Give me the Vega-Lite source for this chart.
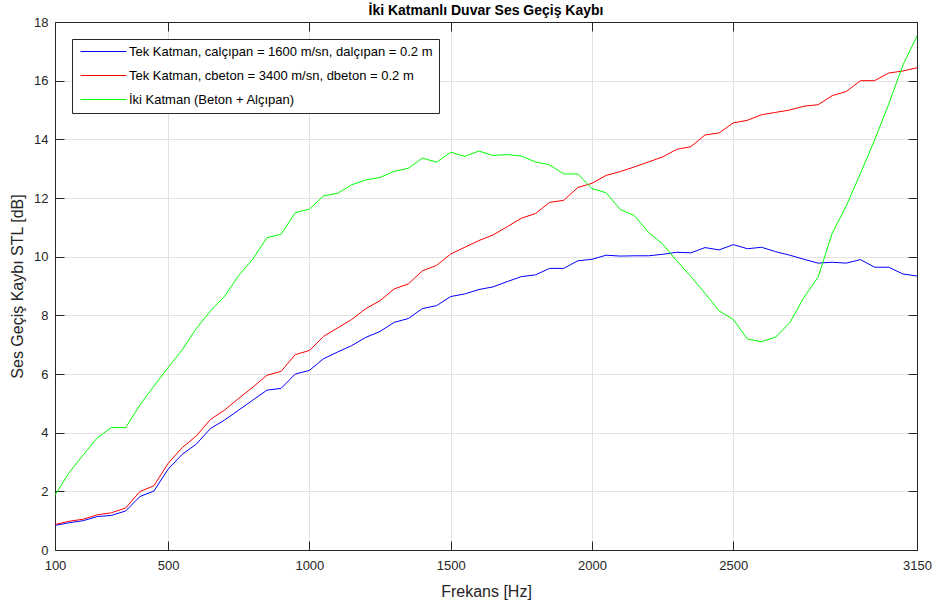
{
  "$schema": "https://vega.github.io/schema/vega-lite/v6.json",
  "width": 862,
  "height": 528,
  "autosize": {"type": "none"},
  "padding": {"left": 55, "top": 22, "right": 24, "bottom": 57},
  "background": "white",
  "config": {
    "font": "Liberation Sans",
    "view": {"stroke": null},
    "axis": {
      "labelFont": "Liberation Sans",
      "titleFont": "Liberation Sans",
      "labelColor": "#262626",
      "titleColor": "#262626",
      "labelFontSize": 13,
      "titleFontSize": 16,
      "titleFontWeight": "normal",
      "domainColor": "#262626",
      "domainWidth": 1,
      "tickColor": "#262626",
      "tickSize": -9,
      "gridColor": "#e2e2e2",
      "gridWidth": 1,
      "labelFlush": false,
      "format": "d"
    }
  },
  "title": {
    "text": "İki Katmanlı Duvar Ses Geçiş Kaybı",
    "font": "Liberation Sans",
    "fontSize": 14,
    "fontWeight": "bold",
    "color": "#000000",
    "anchor": "middle",
    "offset": -2
  },
  "data": {
    "values": [
      {"f": 100, "alcipan": 0.84, "beton": 0.87, "iki": 1.87},
      {"f": 150, "alcipan": 0.93, "beton": 0.98, "iki": 2.64},
      {"f": 200, "alcipan": 1.0, "beton": 1.05, "iki": 3.24},
      {"f": 250, "alcipan": 1.14, "beton": 1.2, "iki": 3.83},
      {"f": 300, "alcipan": 1.18, "beton": 1.27, "iki": 4.18},
      {"f": 350, "alcipan": 1.33, "beton": 1.43, "iki": 4.17},
      {"f": 400, "alcipan": 1.82, "beton": 1.99, "iki": 4.94},
      {"f": 450, "alcipan": 2.01, "beton": 2.19, "iki": 5.59},
      {"f": 500, "alcipan": 2.75, "beton": 2.95, "iki": 6.22},
      {"f": 550, "alcipan": 3.26, "beton": 3.49, "iki": 6.82},
      {"f": 600, "alcipan": 3.61, "beton": 3.89, "iki": 7.55},
      {"f": 650, "alcipan": 4.14, "beton": 4.45, "iki": 8.15},
      {"f": 700, "alcipan": 4.43, "beton": 4.77, "iki": 8.65},
      {"f": 750, "alcipan": 4.77, "beton": 5.17, "iki": 9.36},
      {"f": 800, "alcipan": 5.11, "beton": 5.55, "iki": 9.92},
      {"f": 850, "alcipan": 5.45, "beton": 5.96, "iki": 10.65},
      {"f": 900, "alcipan": 5.51, "beton": 6.09, "iki": 10.76},
      {"f": 950, "alcipan": 6.0, "beton": 6.66, "iki": 11.5},
      {"f": 1000, "alcipan": 6.12, "beton": 6.8, "iki": 11.62},
      {"f": 1050, "alcipan": 6.52, "beton": 7.28, "iki": 12.07},
      {"f": 1100, "alcipan": 6.75, "beton": 7.57, "iki": 12.16},
      {"f": 1150, "alcipan": 6.97, "beton": 7.86, "iki": 12.45},
      {"f": 1200, "alcipan": 7.25, "beton": 8.23, "iki": 12.62},
      {"f": 1250, "alcipan": 7.45, "beton": 8.5, "iki": 12.7},
      {"f": 1300, "alcipan": 7.76, "beton": 8.9, "iki": 12.91},
      {"f": 1350, "alcipan": 7.89, "beton": 9.07, "iki": 13.01},
      {"f": 1400, "alcipan": 8.23, "beton": 9.52, "iki": 13.36},
      {"f": 1450, "alcipan": 8.33, "beton": 9.7, "iki": 13.22},
      {"f": 1500, "alcipan": 8.64, "beton": 10.09, "iki": 13.56},
      {"f": 1550, "alcipan": 8.73, "beton": 10.32, "iki": 13.42},
      {"f": 1600, "alcipan": 8.88, "beton": 10.55, "iki": 13.6},
      {"f": 1650, "alcipan": 8.97, "beton": 10.74, "iki": 13.45},
      {"f": 1700, "alcipan": 9.15, "beton": 11.02, "iki": 13.48},
      {"f": 1750, "alcipan": 9.32, "beton": 11.31, "iki": 13.43},
      {"f": 1800, "alcipan": 9.38, "beton": 11.47, "iki": 13.23},
      {"f": 1850, "alcipan": 9.6, "beton": 11.85, "iki": 13.13},
      {"f": 1900, "alcipan": 9.6, "beton": 11.92, "iki": 12.82},
      {"f": 1950, "alcipan": 9.86, "beton": 12.36, "iki": 12.82},
      {"f": 2000, "alcipan": 9.91, "beton": 12.5, "iki": 12.32},
      {"f": 2050, "alcipan": 10.05, "beton": 12.77, "iki": 12.18},
      {"f": 2100, "alcipan": 10.02, "beton": 12.9, "iki": 11.61},
      {"f": 2150, "alcipan": 10.03, "beton": 13.06, "iki": 11.4},
      {"f": 2200, "alcipan": 10.03, "beton": 13.23, "iki": 10.83},
      {"f": 2250, "alcipan": 10.08, "beton": 13.4, "iki": 10.43},
      {"f": 2300, "alcipan": 10.15, "beton": 13.66, "iki": 9.86},
      {"f": 2350, "alcipan": 10.13, "beton": 13.75, "iki": 9.32},
      {"f": 2400, "alcipan": 10.31, "beton": 14.15, "iki": 8.75},
      {"f": 2450, "alcipan": 10.23, "beton": 14.22, "iki": 8.15},
      {"f": 2500, "alcipan": 10.41, "beton": 14.56, "iki": 7.86},
      {"f": 2550, "alcipan": 10.27, "beton": 14.65, "iki": 7.19},
      {"f": 2600, "alcipan": 10.32, "beton": 14.84, "iki": 7.1},
      {"f": 2650, "alcipan": 10.17, "beton": 14.92, "iki": 7.26},
      {"f": 2700, "alcipan": 10.05, "beton": 15.0, "iki": 7.75},
      {"f": 2750, "alcipan": 9.91, "beton": 15.13, "iki": 8.61},
      {"f": 2800, "alcipan": 9.78, "beton": 15.18, "iki": 9.3},
      {"f": 2850, "alcipan": 9.81, "beton": 15.49, "iki": 10.8},
      {"f": 2900, "alcipan": 9.78, "beton": 15.63, "iki": 11.74},
      {"f": 2950, "alcipan": 9.9, "beton": 16.0, "iki": 12.84},
      {"f": 3000, "alcipan": 9.64, "beton": 16.0, "iki": 13.98},
      {"f": 3050, "alcipan": 9.64, "beton": 16.26, "iki": 15.2},
      {"f": 3100, "alcipan": 9.41, "beton": 16.33, "iki": 16.53},
      {"f": 3150, "alcipan": 9.34, "beton": 16.44, "iki": 17.52}
    ]
  },
  "transform": [
    {"fold": ["alcipan", "beton", "iki"], "as": ["seri", "stl"]}
  ],
  "layer": [
    {
      "mark": {"type": "line", "strokeWidth": 1, "clip": true},
      "encoding": {
        "x": {
          "field": "f",
          "type": "quantitative",
          "scale": {"domain": [100, 3150], "nice": false, "zero": false},
          "axis": {
            "orient": "bottom",
            "title": "Frekans [Hz]",
            "values": [100, 500, 1000, 1500, 2000, 2500, 3150],
            "labelPadding": 18,
            "titlePadding": 11,
            "grid": true
          }
        },
        "y": {
          "field": "stl",
          "type": "quantitative",
          "scale": {"domain": [0, 18], "nice": false},
          "axis": {
            "orient": "left",
            "title": "Ses Geçiş Kaybı STL [dB]",
            "values": [0, 2, 4, 6, 8, 10, 12, 14, 16, 18],
            "labelPadding": 16,
            "titlePadding": 8,
            "grid": true
          }
        },
        "color": {
          "field": "seri",
          "type": "nominal",
          "sort": ["alcipan", "beton", "iki"],
          "scale": {
            "domain": ["alcipan", "beton", "iki"],
            "range": ["#0000ff", "#ff0000", "#00ff00"]
          },
          "legend": {
            "title": null,
            "orient": "none",
            "legendX": 17,
            "legendY": 17,
            "fillColor": "white",
            "strokeColor": "#262626",
            "padding": 6,
            "symbolType": "M-1,0H10.5",
            "symbolSize": 64,
            "symbolStrokeWidth": 1,
            "labelOffset": 38,
            "labelFont": "Liberation Sans",
            "labelFontSize": 13,
            "labelColor": "#000000",
            "labelLimit": 500,
            "rowPadding": 10,
            "labelExpr": "datum.value === 'alcipan' ? 'Tek Katman, calçıpan = 1600 m/sn, dalçıpan = 0.2 m' : datum.value === 'beton' ? 'Tek Katman, cbeton = 3400 m/sn, dbeton = 0.2 m' : 'İki Katman (Beton + Alçıpan)'"
          }
        }
      }
    },
    {
      "mark": {"type": "point", "opacity": 0},
      "encoding": {
        "x": {
          "field": "f",
          "type": "quantitative",
          "scale": {"domain": [100, 3150], "nice": false, "zero": false},
          "axis": {
            "orient": "top",
            "title": null,
            "labels": false,
            "grid": false,
            "values": [100, 500, 1000, 1500, 2000, 2500, 3150]
          }
        },
        "y": {
          "field": "stl",
          "type": "quantitative",
          "scale": {"domain": [0, 18], "nice": false},
          "axis": {
            "orient": "right",
            "title": null,
            "labels": false,
            "grid": false,
            "values": [0, 2, 4, 6, 8, 10, 12, 14, 16, 18]
          }
        }
      }
    }
  ],
  "resolve": {"axis": {"x": "independent", "y": "independent"}}
}
